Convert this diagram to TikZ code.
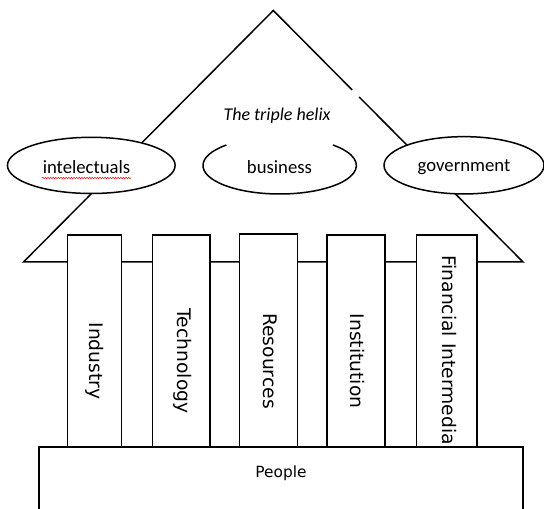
\documentclass[tikz,border=0pt]{standalone}
\usepackage{fontspec}
\setmainfont{Carlito}
\setsansfont{DejaVu Sans}
\usetikzlibrary{shapes.geometric,calc,decorations.pathmorphing}
\tikzset{
  line/.style={line width=1.5pt, black},
  helixell/.style={ellipse, line, draw, fill=white, inner sep=0pt},
  helixtext/.style={inner sep=0pt, font=\fontsize{18.7}{20}\selectfont},
  pillarbox/.style={line, fill=white},
  pillartext/.style={rotate=-90, inner sep=0pt, font=\sffamily\fontsize{18.7}{20}\selectfont},
}
\begin{document}
\begin{tikzpicture}[x=1pt,y=1pt]
\clip (0,0) rectangle (544,509);
\fill[white] (0,0) rectangle (544,509);
% roof
\coordinate (apex) at (273.3,498.5);
\coordinate (bl) at (23.5,247);
\coordinate (br) at (523,247);
\draw[line, line join=miter] ($(apex)!0.316!(br)$) -- (apex) -- (bl) -- (br) -- ($(apex)!0.344!(br)$);
% helix
\node[font=\itshape\fontsize{18}{20}\selectfont] (helix) at (277,393.3) {The triple helix};
\node[helixell, minimum width=167.7pt, minimum height=56.2pt] (int) at (91.3,343.6) {};
\node[helixtext] (intT) at (86.5,342.3) {intelectuals};
\draw[red, line width=0.5pt, decorate, decoration={snake, segment length=2.6pt, amplitude=0.7pt}] (42,331) -- (131,331);
\coordinate (bus) at (279.7,343.5);
\draw[line] ([shift={(134:76.7pt and 28.5pt)}]bus) arc[start angle=134, end angle=406, x radius=76.7pt, y radius=28.5pt];
\node[helixtext] (busT) at (279.5,342.3) {business};
\node[helixell, minimum width=160pt, minimum height=57.3pt] (gov) at (464,343.7) {};
\node[helixtext] (govT) at (464,342.3) {government};
% pillars
\draw[pillarbox] (67.7,62) rectangle (121.5,274) coordinate (p1);
\draw[pillarbox] (152.5,62) rectangle (210,274) coordinate (p2);
\draw[pillarbox] (239.5,62) rectangle (297.7,275) coordinate (p3);
\draw[pillarbox] (326.8,62) rectangle (384.8,274) coordinate (p4);
\draw[pillarbox] (416.5,62) rectangle (477,274) coordinate (p5);
\node[pillartext] (ind) at (94.4,148) {Industry};
\node[pillartext] (tec) at (183,148) {Technology};
\node[pillartext] (res) at (269.8,148) {Resources};
\node[pillartext] (ins) at (357,148) {Institution};
\node[pillartext, anchor=west] (fin) at (449,254) {Financial Intermedia};
% base
\draw[pillarbox] (39,-3) rectangle (523,62);
\node[font=\sffamily\fontsize{15.4}{17}\selectfont] (people) at (281,35.8) {People};
\end{tikzpicture}
\end{document}
